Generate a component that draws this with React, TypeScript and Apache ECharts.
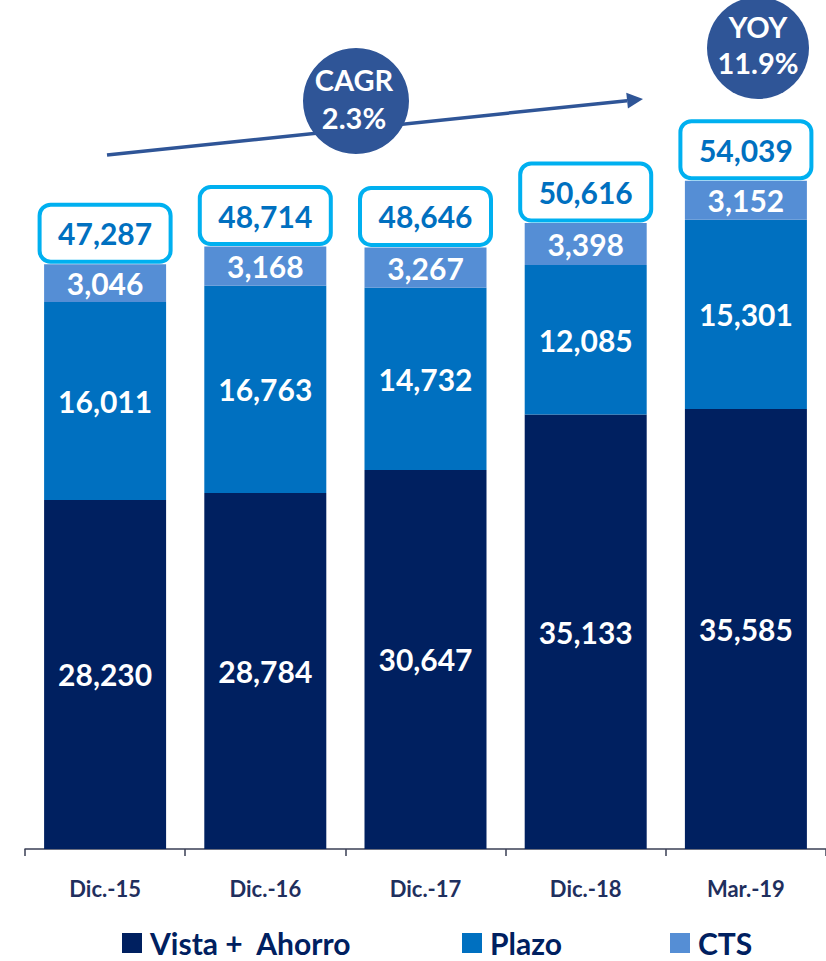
import React, { useEffect, useRef } from "react";
import * as echarts from "echarts";

const categories = ["Dic.-15", "Dic.-16", "Dic.-17", "Dic.-18", "Mar.-19"];
const vistaAhorro = [28230, 28784, 30647, 35133, 35585];
const plazo = [16011, 16763, 14732, 12085, 15301];
const cts = [3046, 3168, 3267, 3398, 3152];
const totals = [47287, 48714, 48646, 50616, 54039];
const seriesNames = ["Vista +  Ahorro", "Plazo", "CTS"];
const cagrText = ["CAGR", "2.3%"];
const yoyText = ["YOY", "11.9%"];

const FONT = "Lato, 'Open Sans', sans-serif";
const fmt = (v: number) => v.toLocaleString("en-US");

export default function App() {
  const ref = useRef<HTMLDivElement>(null);
  useEffect(() => {
    if (!ref.current) return;
    const chart = echarts.init(ref.current, undefined, { renderer: "svg" });
    const barLabel = {
      show: true,
      position: "inside" as const,
      color: "#ffffff",
      fontFamily: FONT,
      fontWeight: "bold" as const,
      fontSize: 30,
      formatter: (p: any) => fmt(p.value),
    };
    const colors = ["#002060", "#0070c0", "#558ed5"];
    const legendLefts = [122, 462, 670];
    // arrow geometry
    const tail = [107, 155];
    const tip = [643, 99];
    const dx = tip[0] - tail[0];
    const dy = tip[1] - tail[1];
    const len = Math.sqrt(dx * dx + dy * dy);
    const ux = dx / len;
    const uy = dy / len;
    const headL = 16;
    const headW = 8;
    const base = [tip[0] - ux * headL, tip[1] - uy * headL];
    const px = -uy * headW;
    const py = ux * headW;

    chart.setOption({
      animation: false,
      grid: { left: 25, right: -19, top: 107, bottom: 112, containLabel: false },
      xAxis: {
        type: "category",
        data: categories,
        axisLine: { lineStyle: { color: "#3a3f55", width: 1.5 } },
        axisTick: { show: true, length: 7, lineStyle: { color: "#3a3f55", width: 1.5 } },
        axisLabel: {
          color: "#1f2f5e",
          fontFamily: FONT,
          fontWeight: "bold",
          fontSize: 22,
          margin: 28,
        },
      },
      yAxis: { type: "value", min: 0, max: 60000, show: false, splitLine: { show: false } },
      legend: seriesNames.map((n, i) => ({
        data: [n],
        left: legendLefts[i],
        top: 928,
        icon: "rect",
        itemWidth: 20,
        itemHeight: 20,
        selectedMode: false,
        padding: 0,
        textStyle: {
          color: "#002060",
          fontFamily: FONT,
          fontWeight: "bold",
          fontSize: 30,
          padding: [0, 0, 0, 3],
        },
      })),
      series: [
        { name: seriesNames[0], type: "bar", stack: "t", barWidth: 122, data: vistaAhorro, itemStyle: { color: colors[0] }, label: barLabel },
        { name: seriesNames[1], type: "bar", stack: "t", barWidth: 122, data: plazo, itemStyle: { color: colors[1] }, label: barLabel },
        { name: seriesNames[2], type: "bar", stack: "t", barWidth: 122, data: cts, itemStyle: { color: colors[2] }, label: barLabel },
        {
          name: "Total",
          type: "scatter",
          data: totals,
          symbolSize: 1,
          itemStyle: { color: "rgba(0,0,0,0)", opacity: 1 },
          z: 5,
          label: {
            show: true,
            position: "top",
            distance: 4,
            opacity: 1,
            formatter: (p: any) => fmt(p.value),
            color: "#0070c0",
            fontFamily: FONT,
            fontWeight: "bold",
            fontSize: 30,
            backgroundColor: "#ffffff",
            borderColor: "#00b0f0",
            borderWidth: 4,
            borderRadius: 9,
            width: 127,
            height: 53,
            lineHeight: 53,
            padding: 0,
          },
        },
      ],
      graphic: [
        {
          type: "line",
          shape: { x1: tail[0], y1: tail[1], x2: base[0], y2: base[1] },
          style: { stroke: "#2f5597", lineWidth: 3.5 },
          z: 10,
        },
        {
          type: "polygon",
          shape: {
            points: [
              [tip[0], tip[1]],
              [base[0] + px, base[1] + py],
              [base[0] - px, base[1] - py],
            ],
          },
          style: { fill: "#2f5597" },
          z: 10,
        },
        {
          type: "circle",
          shape: { cx: 356, cy: 101, r: 53 },
          style: { fill: "#2f5597" },
          z: 11,
        },
        {
          type: "text",
          x: 354,
          y: 98,
          z: 12,
          style: {
            text: cagrText.join("\n"),
            fill: "#ffffff",
            font: `bold 29px ${FONT}`,
            lineHeight: 38,
            align: "center",
            verticalAlign: "middle",
          },
        },
        {
          type: "circle",
          shape: { cx: 758, cy: 48, r: 51 },
          style: { fill: "#2f5597" },
          z: 11,
        },
        {
          type: "text",
          x: 758,
          y: 44,
          z: 12,
          style: {
            text: yoyText.join("\n"),
            fill: "#ffffff",
            font: `bold 29px ${FONT}`,
            lineHeight: 36,
            align: "center",
            verticalAlign: "middle",
          },
        },
      ],
    });
    return () => chart.dispose();
  }, []);
  return (
    <div
      ref={ref}
      style={{ position: "fixed", left: 0, top: 0, width: 826, height: 961, background: "#ffffff" }}
    />
  );
}
